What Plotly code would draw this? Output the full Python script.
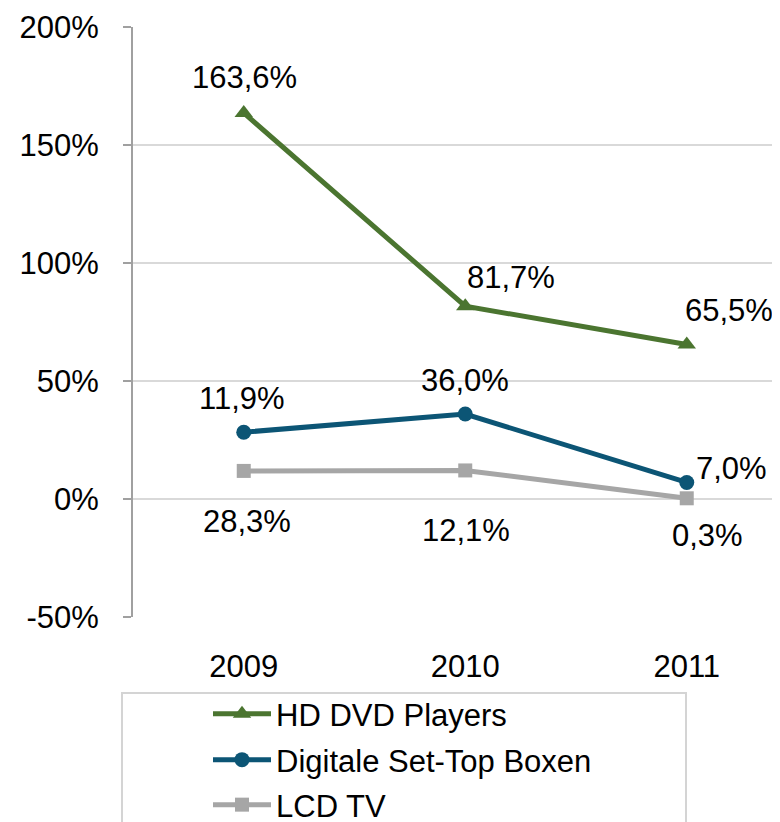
import plotly.graph_objects as go

categories = ["2009", "2010", "2011"]
series_names = ["HD DVD Players", "Digitale Set-Top Boxen", "LCD TV"]
hd_dvd = [163.6, 81.7, 65.5]
set_top = [28.3, 36.0, 7.0]
lcd_tv = [11.9, 12.1, 0.3]
hd_dvd_labels = ["163,6%", "81,7%", "65,5%"]
set_top_labels = ["11,9%", "36,0%", "7,0%"]
lcd_tv_labels = ["28,3%", "12,1%", "0,3%"]
y_ticks = [-50, 0, 50, 100, 150, 200]
y_tick_labels = ["-50%", "0%", "50%", "100%", "150%", "200%"]

FONT = "Liberation Sans, Arial, sans-serif"
FS = 31
colors = ["#4b7530", "#0c5575", "#a6a6a6"]
symbols = ["triangle-up", "circle", "square"]
msizes = [16, 15, 14]
values = [hd_dvd, set_top, lcd_tv]
labels = [hd_dvd_labels, set_top_labels, lcd_tv_labels]
# label offsets in px (xshift, yshift)
offsets = [
    [(1, 35), (46, 29), (42, 34)],
    [(-2, 34), (0, 34), (45, 14)],
    [(3, -51), (1, -60), (21, -37)],
]
legend_names = ["legend", "legend2", "legend3"]

# page body margin offset (the div is placed 8px from the page corner)
OFF = 8
W, H = 780, 822
L, R, T, B = 125, 0, 19, 213
pw, ph = W - L - R, H - T - B
band = 221.5
xmax = -0.5 + pw / band


def px_to_paper_x(page_px):
    return (page_px - OFF - L) / pw


def px_to_paper_y(page_py):
    return (H - B - (page_py - OFF)) / ph


fig = go.Figure()
for i in range(3):
    fig.add_trace(go.Scatter(
        x=categories, y=values[i], name=series_names[i], mode="lines+markers",
        line=dict(color=colors[i], width=5),
        marker=dict(symbol=symbols[i], size=msizes[i], color=colors[i]),
        legend=legend_names[i], cliponaxis=False,
    ))

annotations = []
for i in range(3):
    for j, c in enumerate(categories):
        annotations.append(dict(x=j, y=values[i][j], xref="x", yref="y",
                                text=labels[i][j], showarrow=False,
                                xshift=offsets[i][j][0], yshift=offsets[i][j][1],
                                font=dict(family=FONT, size=FS, color="#000000")))

legend_centers = [714, 760, 805]
leg_common = dict(font=dict(family=FONT, size=FS, color="#000000"), bgcolor="rgba(0,0,0,0)",
                  borderwidth=0, xanchor="left", yanchor="middle", itemwidth=58)
layout_legends = {}
for k, name in enumerate(legend_names):
    layout_legends[name] = dict(x=px_to_paper_x(208), y=px_to_paper_y(legend_centers[k]), **leg_common)

fig.update_layout(
    width=W, height=H,
    margin=dict(l=L, r=R, t=T, b=B, pad=0, autoexpand=False),
    paper_bgcolor="white", plot_bgcolor="white",
    font=dict(family=FONT, size=FS, color="#000000"),
    showlegend=True,
    annotations=annotations,
    xaxis=dict(type="category", categoryarray=categories, range=[-0.5, xmax],
               showgrid=False, zeroline=False, showline=False, ticks="",
               tickfont=dict(family=FONT, size=FS), ticklabelstandoff=28, automargin=False),
    xaxis2=dict(overlaying="x", anchor="free", position=(0 - y_ticks[0]) / (y_ticks[-1] - y_ticks[0]),
                range=[-0.5, xmax], tickvals=[0.5, 1.5], showticklabels=False,
                ticks="outside", ticklen=9, tickwidth=2, tickcolor="#a0a0a0",
                showline=True, linecolor="#a0a0a0", linewidth=3, showgrid=False,
                zeroline=False, layer="below traces", automargin=False),
    yaxis=dict(range=[y_ticks[0], y_ticks[-1]], tickvals=y_ticks, ticktext=y_tick_labels,
               showgrid=True, gridcolor="#d9d9d9", gridwidth=2, zeroline=False,
               showline=True, linecolor="#a0a0a0", linewidth=2,
               ticks="outside", ticklen=8, tickwidth=2, tickcolor="#a0a0a0",
               tickfont=dict(family=FONT, size=FS), ticklabelstandoff=18, automargin=False),
    shapes=[dict(type="rect", xref="paper", yref="paper",
                 x0=px_to_paper_x(122), x1=px_to_paper_x(686),
                 y0=px_to_paper_y(693), y1=px_to_paper_y(860),
                 line=dict(color="#d4d4d4", width=2), fillcolor="rgba(0,0,0,0)", layer="below")],
    **layout_legends,
)

fig.write_html("out.html")
